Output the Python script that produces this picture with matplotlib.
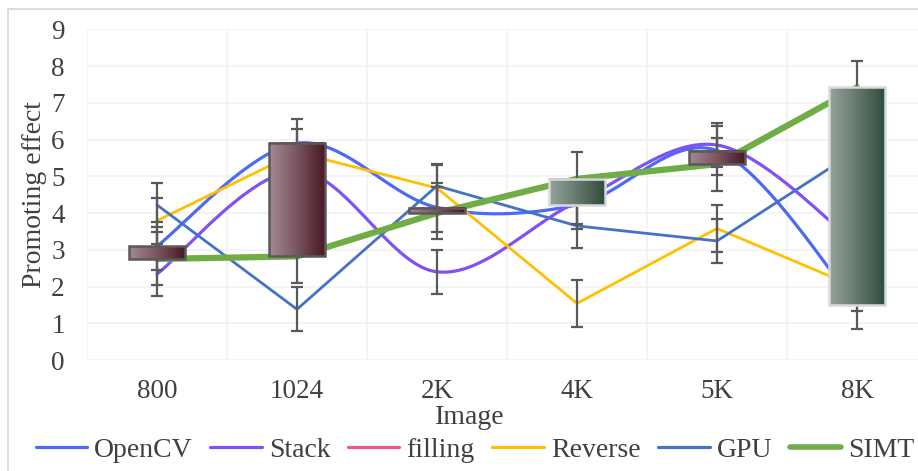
import numpy as np
import matplotlib
matplotlib.use("Agg")
import matplotlib.pyplot as plt
from matplotlib.colors import LinearSegmentedColormap
from matplotlib.patches import Rectangle
from matplotlib.lines import Line2D

# data
categories = ["800", "1024", "2K", "4K", "5K", "8K"]
opencv  = [3.10, 5.90, 4.15, 4.22, 5.70, 1.50]
stack   = [2.34, 5.15, 2.40, 4.30, 5.85, 3.15]
filling = [np.nan] * 6
reverse = [3.79, 5.65, 4.68, 1.54, 3.58, 1.97]
gpu     = [4.22, 1.38, 4.74, 3.65, 3.24, 5.70]
simt    = [2.75, 2.82, 4.00, 4.93, 5.33, 7.42]
# constant error bar size for each series
errors = {"OpenCV": 0.66, "Stack": 0.60, "Reverse": 0.63, "GPU": 0.60, "SIMT": 0.72}

TXT = "#404040"
plt.rcParams['font.family'] = ['Liberation Serif', 'DejaVu Serif']


def excel_smooth(xs, ys, n=40):
    # Excel style smoothed line: bezier segments with 1/6 tangents
    p = np.column_stack([xs, ys]).astype(float)
    out = []
    for i in range(len(p) - 1):
        p0 = p[i - 1] if i > 0 else p[i]
        p1, p2 = p[i], p[i + 1]
        p3 = p[i + 2] if i + 2 < len(p) else p[i + 1]
        c1 = p1 + (p2 - p0) / 6.0
        c2 = p2 - (p3 - p1) / 6.0
        t = np.linspace(0, 1, n)[:, None]
        seg = ((1 - t) ** 3) * p1 + 3 * (1 - t) ** 2 * t * c1 + 3 * (1 - t) * t ** 2 * c2 + t ** 3 * p2
        out.append(seg if i == 0 else seg[1:])
    out = np.vstack(out)
    return out[:, 0], out[:, 1]


fig = plt.figure(figsize=(9.18, 4.71), dpi=100)
# outer chart border (cropped on the right and bottom)
fig.patches.append(Rectangle((8 / 918, -0.1), 1.2, 1 - 9 / 471 + 0.1, transform=fig.transFigure,
                             fill=False, edgecolor="#D9D9D9", linewidth=1.3))
ax = fig.add_axes([87 / 918, 1 - 360 / 471, 840 / 918, 330.7 / 471])

x = np.arange(len(categories))

series = [
    ("OpenCV", opencv, "#4D6AF5", 2.3, True),
    ("Stack", stack, "#8150F7", 2.3, True),
    ("filling", filling, "#F0588A", 2.3, False),
    ("Reverse", reverse, "#FFC000", 2.0, False),
    ("GPU", gpu, "#4472C4", 2.0, False),
    ("SIMT", simt, "#70AD47", 4.5, False),
]

handles = []
for name, vals, col, lw, smooth in series:
    if smooth:
        sx, sy = excel_smooth(x, vals)
    else:
        sx, sy = x, vals
    ax.plot(sx, sy, color=col, lw=lw, zorder=3 if name == "SIMT" else 2,
            solid_capstyle='round')
    handles.append(Line2D([], [], color=col, lw=4 if name == "SIMT" else 2.3,
                          solid_capstyle='round'))
    if name in errors:
        ax.errorbar(x, vals, yerr=errors[name], fmt='none', ecolor="#595959",
                    elinewidth=1.6, capsize=4.3, capthick=1.6, zorder=4)

# up / down bars between first and last series
down_cmap = LinearSegmentedColormap.from_list("down", ["#A38A90", "#7A5560", "#4A1824"])
up_cmap = LinearSegmentedColormap.from_list("up", ["#97A49C", "#66786D", "#2F4C3C"])
grad = np.linspace(0, 1, 256)[None, :]
for xi, a, b in zip(x, opencv, simt):
    lo, hi = min(a, b), max(a, b)
    up = b > a
    ax.imshow(grad, extent=[xi - 0.2, xi + 0.2, lo, hi], aspect='auto',
              cmap=up_cmap if up else down_cmap, zorder=5, interpolation='bilinear')
    ax.add_patch(Rectangle((xi - 0.2, lo), 0.4, hi - lo, fill=False,
                           edgecolor="#D9D9D9" if up else "#595959", lw=1.8, zorder=6))

ax.set_xlim(-0.5, len(categories) - 0.5)
ax.set_ylim(0, 9)
ax.set_yticks(range(0, 10))
ax.set_xticks(x)
ax.set_xticklabels(categories)
ax.set_xticks(np.arange(-0.5, len(categories), 1), minor=True)
ax.grid(True, which='major', axis='y', color="#F2F2F2", lw=1.2, zorder=0)
ax.grid(True, which='minor', axis='x', color="#F2F2F2", lw=1.2, zorder=0)
for s in ax.spines.values():
    s.set_visible(False)
ax.tick_params(axis='both', which='both', length=0, labelsize=19.5, colors=TXT)
ax.tick_params(axis='y', pad=16)
ax.tick_params(axis='x', pad=14)
ax.set_ylabel("Promoting effect", fontsize=20, color=TXT, labelpad=3)
fig.text(470 / 918, 1 - 417 / 471, "Image", ha='center', va='center', fontsize=20, color=TXT)

fig.legend(handles, [s[0] for s in series], loc='center', bbox_to_anchor=(475 / 918, 1 - 450 / 471),
           ncol=6, frameon=False, fontsize=20, handlelength=1.85, handletextpad=0.25,
           columnspacing=0.64, labelcolor=TXT)

fig.savefig("out.png", dpi=100)
